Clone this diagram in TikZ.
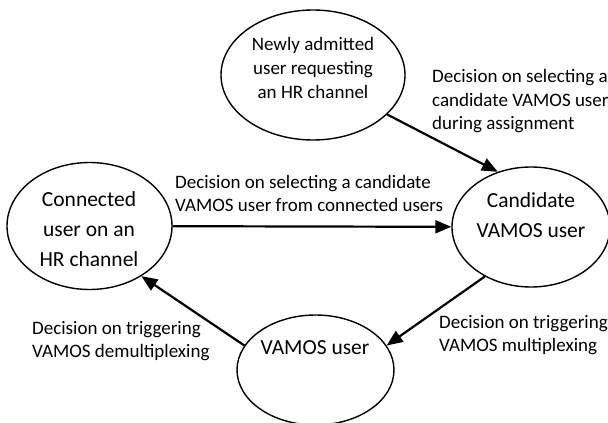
\documentclass[tikz,border=0pt]{standalone}
\usepackage{fontspec}
\setmainfont{Carlito}
\usetikzlibrary{shapes.geometric,arrows.meta}
\begin{document}
\begin{tikzpicture}[x=1pt,y=-1pt,
  state/.style={draw,ellipse,line width=1.4pt,inner sep=0pt},
  lbl/.style={font=\fontsize{19}{23.5}\selectfont,align=left,anchor=west,inner sep=0pt},
  stxt/.style={font=\fontsize{19}{24}\selectfont,align=center,inner sep=0pt},
  btxt/.style={font=\fontsize{21.5}{30}\selectfont,align=center,inner sep=0pt},
  flow/.style={line width=2.2pt,-{Triangle[length=16pt,width=13pt]}}]
\path[use as bounding box] (0,0) rectangle (608,423);
\clip (0,0) rectangle (608,423);

% states
\node[state,minimum width=184pt,minimum height=130pt] (newuser) at (313,75) {};
\node[stxt] (newusertxt) at (313,68) {Newly admitted\\user requesting\\an HR channel};

\node[state,minimum width=165pt,minimum height=127pt] (conn) at (89.5,226) {};
\node[btxt] (conntxt) at (89,229) {Connected\\user on an\\HR channel};

\node[state,minimum width=158pt,minimum height=120pt] (cand) at (531,227) {};
\node[btxt] (candtxt) at (531,215) {Candidate\\VAMOS user};

\node[state,minimum width=157pt,minimum height=110pt] (vamos) at (315.5,370) {};
\node[btxt] (vamostxt) at (315,348) {VAMOS user};

% transitions
\draw[flow] (newuser.-28.4) -- (cand.121.3);
\draw[flow] (conn) -- (cand);
\draw[flow] (cand.-133.8) -- (vamos.19);
\draw[flow] (vamos.161.2) -- (conn.-44.7);

% transition labels
\node[lbl] (lassign) at (432,101.5) {Decision on selecting a\\candidate VAMOS user\\during assignment};
\node[lbl] (lconn) at (175,193.5) {Decision on selecting a candidate\\VAMOS user from connected users};
\node[lbl] (ldemux) at (32,341) {Decision on triggering\\VAMOS demultiplexing};
\node[lbl] (lmux) at (439,335) {Decision on triggering\\VAMOS multiplexing};
\end{tikzpicture}
\end{document}
